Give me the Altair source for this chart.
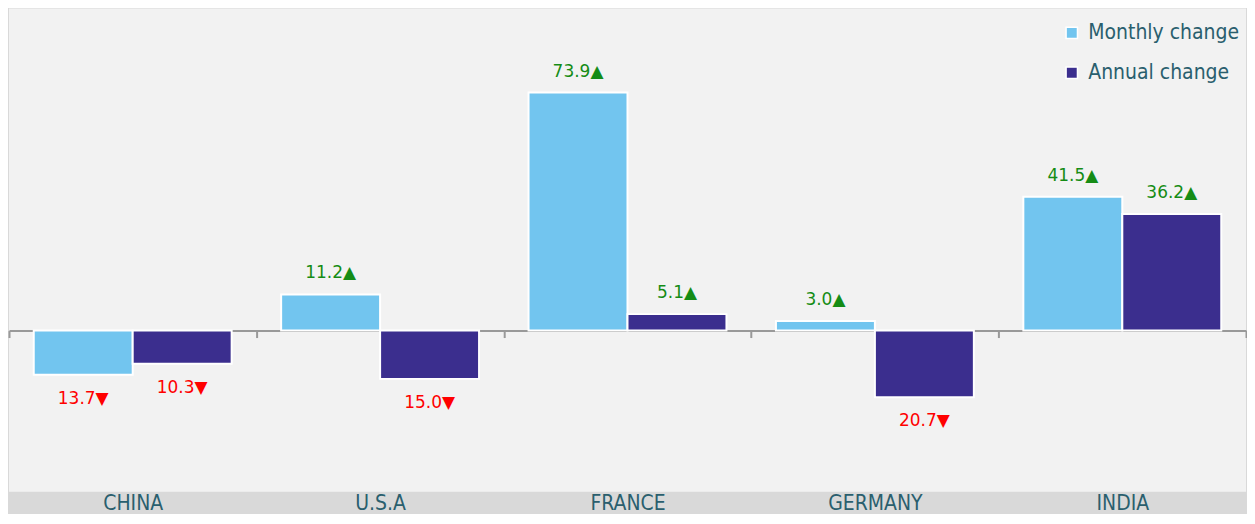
import altair as alt
import pandas as pd

countries = ["CHINA", "U.S.A", "FRANCE", "GERMANY", "INDIA"]
monthly = [-13.7, 11.2, 73.9, 3.0, 41.5]
annual = [-10.3, -15.0, 5.1, -20.7, 36.2]
series = ["Monthly change", "Annual change"]
colors = ["#72c5ef", "#3b2e8e"]

rows = []
for i, c in enumerate(countries):
    for s, vals in zip(series, [monthly, annual]):
        v = vals[i]
        arrow = "▲" if v >= 0 else "▼"
        rows.append({"country": c, "series": s, "value": v,
                     "label": f"{abs(v):.1f}{arrow}"})
df = pd.DataFrame(rows)

W, H = 1239, 484
ymin, ymax = -50, 100
zero_from_bottom = H * (0 - ymin) / (ymax - ymin)

xscale = alt.Scale(domain=countries, paddingInner=0, paddingOuter=0)
offscale = alt.Scale(domain=series, paddingInner=0, paddingOuter=0.25)
yscale = alt.Scale(domain=[ymin, ymax], nice=False, zero=False)

xaxis = alt.Axis(title=None, labelAngle=0, domain=True, ticks=True,
                 tickBand="extent", tickSize=7, tickColor="#999999",
                 tickWidth=2, domainColor="#999999", domainWidth=2,
                 offset=-zero_from_bottom,
                 labelPadding=zero_from_bottom - 6, labelBaseline="top",
                 labelFont="DejaVu Sans Condensed", labelFontSize=21,
                 labelColor="#2a5f6e", grid=False)

base = alt.Chart(df)

bars = base.mark_bar(stroke="white", strokeWidth=2).encode(
    x=alt.X("country:N", scale=xscale, sort=countries, axis=xaxis),
    xOffset=alt.XOffset("series:N", sort=series, scale=offscale),
    y=alt.Y("value:Q", scale=yscale, axis=None),
    color=alt.Color("series:N", sort=series,
                    scale=alt.Scale(domain=series, range=colors),
                    legend=alt.Legend(title=None, orient="none", legendX=1048, legendY=8,
                                      padding=6,
                                      symbolType="square", symbolSize=130,
                                      symbolStrokeColor="white", symbolStrokeWidth=1.5,
                                      labelFont="DejaVu Sans Condensed", labelFontSize=21,
                                      labelColor="#2a5f6e", rowPadding=18,
                                      labelOffset=6)),
)

pos_text = base.transform_filter("datum.value >= 0").mark_text(
    dy=-21, fontSize=17, font="DejaVu Sans", color="#158c15"
).encode(
    x=alt.X("country:N", scale=xscale, sort=countries, axis=xaxis),
    xOffset=alt.XOffset("series:N", sort=series, scale=offscale),
    y=alt.Y("value:Q", scale=yscale, axis=None),
    text="label:N",
)

neg_text = base.transform_filter("datum.value < 0").mark_text(
    dy=24, fontSize=17, font="DejaVu Sans", color="#ff0000"
).encode(
    x=alt.X("country:N", scale=xscale, sort=countries, axis=xaxis),
    xOffset=alt.XOffset("series:N", sort=series, scale=offscale),
    y=alt.Y("value:Q", scale=yscale, axis=None),
    text="label:N",
)

chart = alt.layer(bars, pos_text, neg_text).properties(
    width=W, height=H, background="#d9d9d9", padding=0
).configure_view(fill="#f2f2f2", stroke=None)

chart.save("out.html", embed_options={"renderer": "svg", "actions": False})
